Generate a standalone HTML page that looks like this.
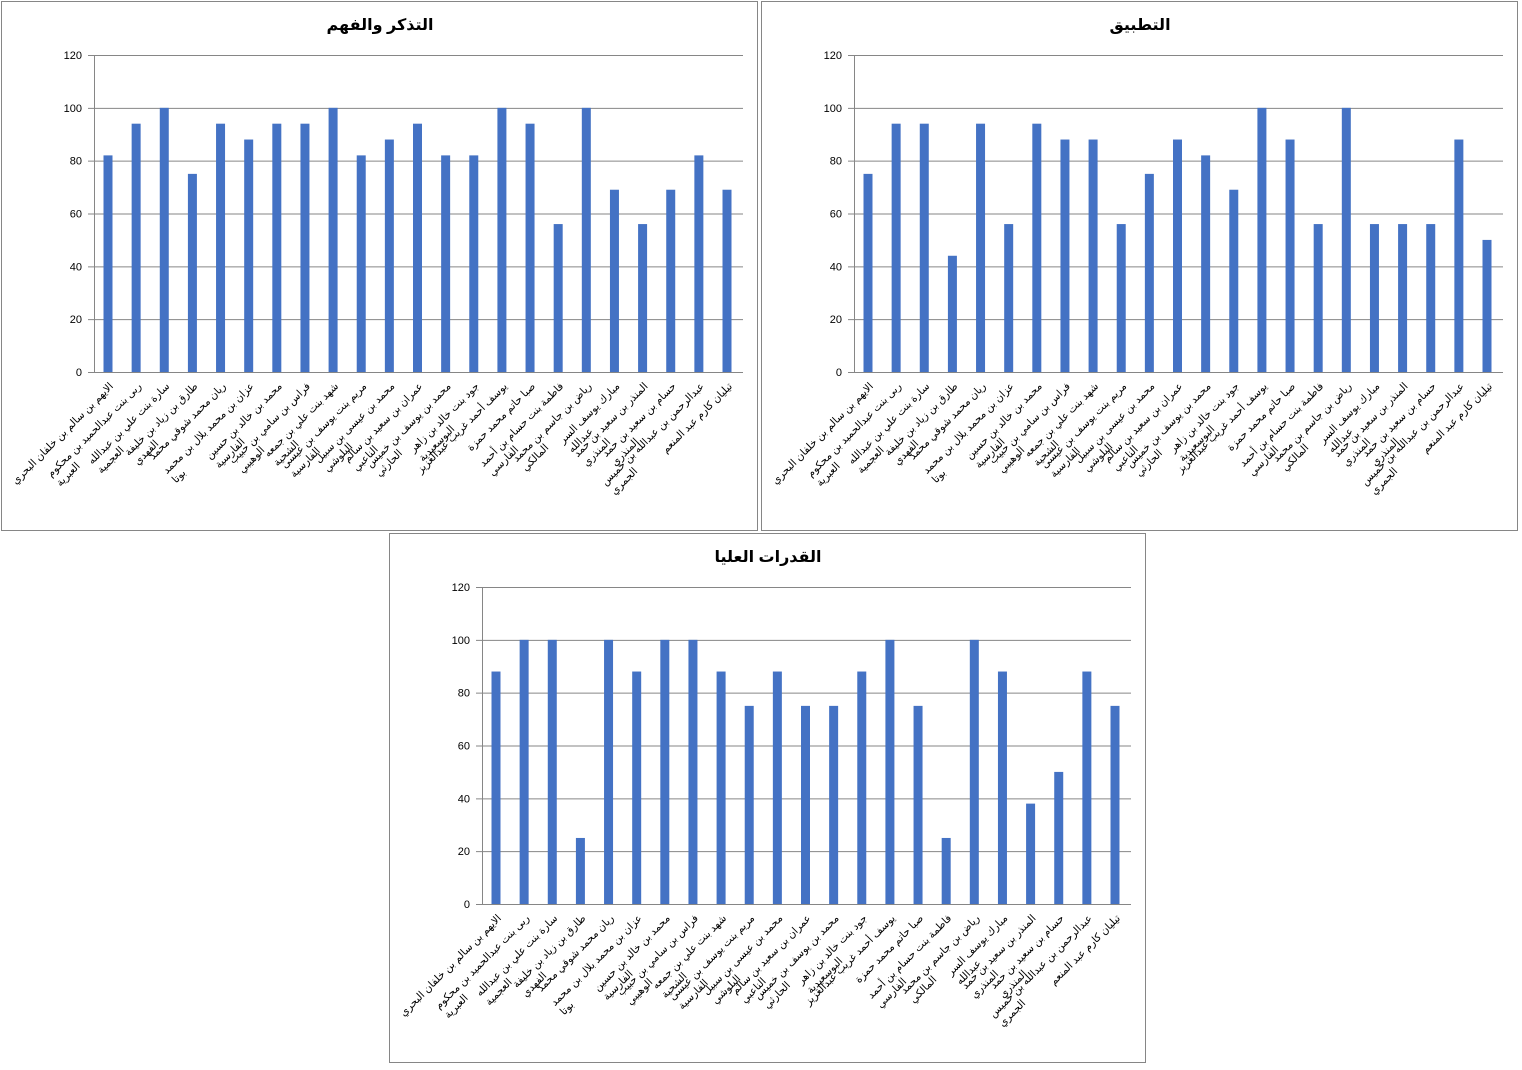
<!DOCTYPE html>
<html><head><meta charset="utf-8">
<style>
html,body{margin:0;padding:0;background:#fff;width:1522px;height:1070px;overflow:hidden}
svg{position:absolute;left:0;top:0}
</style></head><body>
<svg id="s" width="1522" height="1070" xmlns="http://www.w3.org/2000/svg" direction="ltr"></svg>
<script>
var names=[
["الايهم بن سالم بن خلفان البحري",""],
["ربى بنت عبدالحميد بن محكوم","العبرية"],
["سارة بنت علي بن عبدالله","العجمية"],
["طارق بن زياد بن خليفة","الفهدي"],
["ريان محمد شوقي محمد",""],
["عزان بن محمد بلال بن محمد","بوتا"],
["محمد بن خالد بن حسين","الفارسية"],
["فراس بن سامي بن حبيب","الوهيبي"],
["شهد بنت علي بن جمعه","الشحية"],
["مريم بنت يوسف بن عيسى","الفارسية"],
["محمد بن عيسى بن سبيل","البلوشي"],
["عمران بن سعيد بن سالم","الناعبي"],
["محمد بن يوسف بن خميس","الحارثي"],
["جود بنت خالد بن زاهر","البوسعيدية"],
["يوسف أحمد غريب عبدالعزيز",""],
["صبا حاتم محمد حمزة",""],
["فاطمة بنت حسام بن أحمد","الفارسي"],
["رياض بن جاسم بن محمد","المالكي"],
["مبارك يوسف السر","عبدالله"],
["المنذر بن سعيد بن حمد","المنذري"],
["حسام بن سعيد بن حمد","المنذري"],
["عبدالرحمن بن عبدالله بن خميس","الجمري"],
["تيليان كارم عبد المنعم",""]];
var charts=[
{bx:1,by:1,title:"التذكر والفهم",d:[82,94,100,75,94,88,94,94,100,82,88,94,82,82,100,94,56,100,69,56,69,82,69]},
{bx:761,by:1,title:"التطبيق",d:[75,94,94,44,94,56,94,88,88,56,75,88,82,69,100,88,56,100,56,56,56,88,50]},
{bx:389,by:533,title:"القدرات العليا",d:[88,100,100,25,100,88,100,100,88,75,88,75,75,88,100,75,25,100,88,38,50,88,75]}];
var h='';
var FF='Liberation Sans, DejaVu Sans, sans-serif';
charts.forEach(function(c,ci){
 var X=c.bx,Y=c.by;
 h+='<rect x="'+(X+0.5)+'" y="'+(Y+0.5)+'" width="756" height="529" fill="#fff" stroke="#868686"/>';
 h+='<text x="'+(X+379)+'" y="'+(Y+29)+'" text-anchor="middle" font-family="'+FF+'" font-weight="bold" font-size="16">'+c.title+'</text>';
 var L=X+93,R=X+742,T=Y+54,B=Y+371;
 for(var i=0;i<=6;i++){var y=B-(B-T)*i/6;
  h+='<line x1="'+(L-6)+'" x2="'+R+'" y1="'+(y+0.5)+'" y2="'+(y+0.5)+'" stroke="#868686"/>';
  h+='<text x="'+(L-12)+'" y="'+(y+4)+'" text-anchor="end" font-family="Liberation Sans, sans-serif" font-size="11">'+(i*20)+'</text>';}
 h+='<line x1="'+(L+0.5)+'" x2="'+(L+0.5)+'" y1="'+T+'" y2="'+B+'" stroke="#868686"/>';
 var f=X+107,st=(619)/22;
 c.d.forEach(function(v,k){var cx=f+st*k;var bh=(B-T)*v/120;
  h+='<rect x="'+(cx-4.5)+'" y="'+(B-bh)+'" width="9" height="'+bh+'" fill="#4472C4"/>';
  var ax=cx+3,ay=B+12;
  h+='<g transform="translate('+ax+','+ay+') rotate(-45)" font-family="'+FF+'" font-size="10.5">';
  h+='<text class="l1" x="0" y="4" text-anchor="end">'+names[k][0]+'</text>';
  if(names[k][1])h+='<text class="l2" x="0" y="17" text-anchor="start">'+names[k][1]+'</text>';
  h+='</g>';});
});
var s=document.getElementById('s');
s.innerHTML=h;
var gs=s.querySelectorAll('g');
gs.forEach(function(g){var a=g.querySelector('.l1'),b=g.querySelector('.l2');
 if(b){var w=a.getComputedTextLength();b.setAttribute('x',-w);}});
</script>
</body></html>
